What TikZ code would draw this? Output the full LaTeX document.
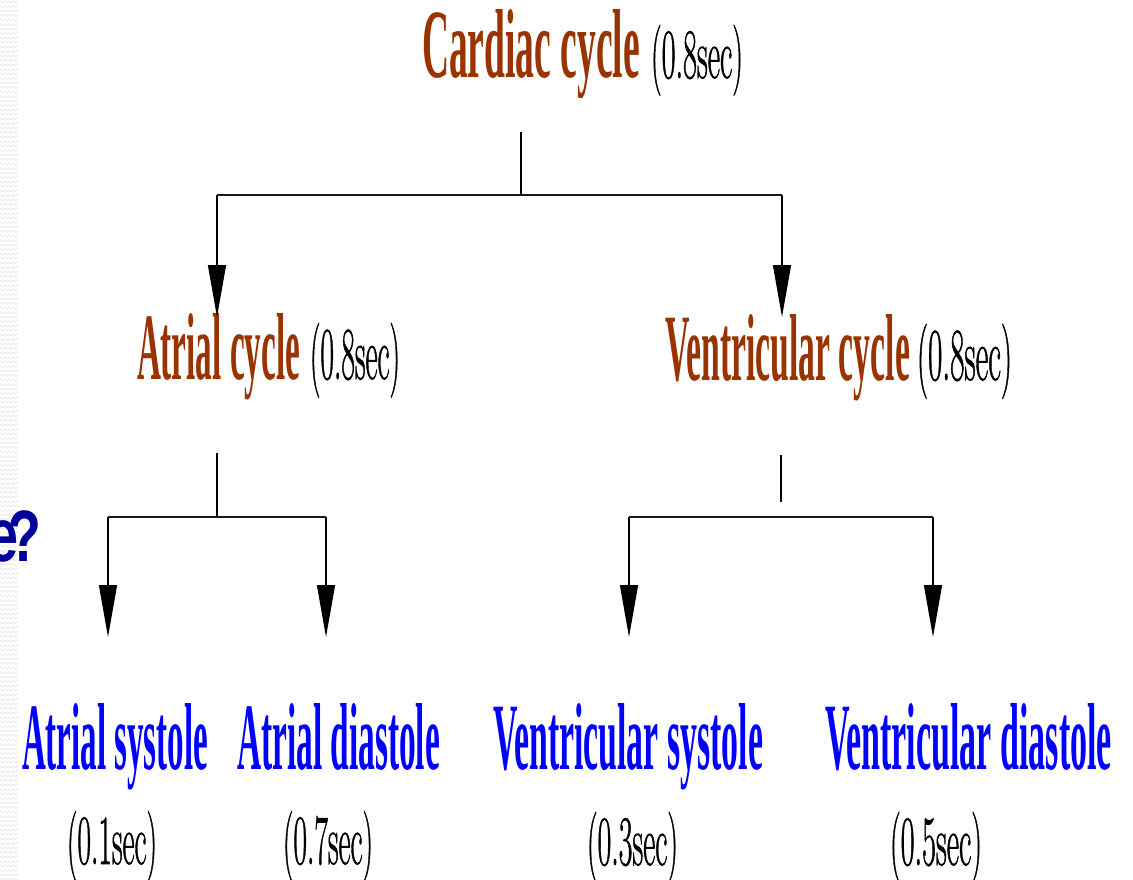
\documentclass[tikz,border=0pt]{standalone}
\usepackage{fontspec}
\usepackage{graphicx}
\newfontfamily\tnr{Liberation Serif}
\newfontfamily\monob{Liberation Mono}
\newfontfamily\durfont[FakeBold=1.2]{Latin Modern Roman}
\usetikzlibrary{arrows.meta,decorations.pathmorphing}
\definecolor{brownc}{HTML}{993300}
\definecolor{bluec}{HTML}{0000FF}
\definecolor{navyq}{HTML}{000099}
\newcommand{\fitbox}[3]{\resizebox{#1pt}{#2pt}{#3}}
\newcommand{\boldt}[3]{\fitbox{#1}{#2}{\tnr\bfseries #3}}
\newcommand{\durt}[3]{\fitbox{#1}{#2}{\durfont\fontsize{60}{60}\selectfont #3}}
\begin{document}
\begin{tikzpicture}[x=1pt,y=1pt,
  lbl/.style={anchor=base west, inner sep=0pt, outer sep=0pt},
  head/.style={lbl, text=brownc},
  leaf/.style={lbl, text=bluec},
  dur/.style={lbl, text=black},
  stemline/.style={line width=1.3pt, draw=black},
  barline/.style={line width=2.8pt, draw=black!90},
  arr/.style={line width=1.3pt, draw=black, -{Triangle[width=18pt,length=52pt]}},
  stripe/.style={draw=black!11, line width=0.6pt, decorate,
    decoration={zigzag, segment length=4pt, amplitude=1pt}}]
\useasboundingbox (0,0) rectangle (1133,-880);
\fill[white] (0,0) rectangle (1133,-880);
% textured left strip
\foreach \y in {2,6.5,...,880} \draw[stripe] (0,-\y) -- (18,-\y);
% clipped fragment of slide title
\begin{scope}
\clip (0,0) rectangle (1133,-880);
\node[anchor=base east, inner sep=0pt, text=navyq] (frag) at (41,-561)
  {\scalebox{0.72}[1]{\monob\bfseries\fontsize{76}{76}\selectfont e\kern-0.2em?}};
\end{scope}
% labels
\node[head] (cardiac) at (422,-78) {\boldt{218}{68}{Cardiac cycle}};
\node[dur] (cardiacd) at (651,-78) {\durt{92}{53}{(0.8sec)}};
\node[head] (atrial) at (137,-379) {\boldt{163}{66}{Atrial cycle}};
\node[dur] (atriald) at (310,-379) {\durt{90}{56}{(0.8sec)}};
\node[head] (ventr) at (665,-380) {\boldt{245}{66}{Ventricular cycle}};
\node[dur] (ventrd) at (917,-380) {\durt{95}{56}{(0.8sec)}};
\node[leaf] (asys) at (22,-769) {\boldt{186}{66}{Atrial systole}};
\node[leaf] (adia) at (237,-769) {\boldt{203}{66}{Atrial diastole}};
\node[leaf] (vsys) at (493,-769) {\boldt{270}{66}{Ventricular systole}};
\node[leaf] (vdia) at (825,-769) {\boldt{287}{66}{Ventricular diastole}};
\node[dur] (asysd) at (67,-864) {\durt{90}{53}{(0.1sec)}};
\node[dur] (adiad) at (283,-864) {\durt{90}{53}{(0.7sec)}};
\node[dur] (vsysd) at (587,-865) {\durt{91}{53}{(0.3sec)}};
\node[dur] (vdiad) at (890,-865) {\durt{92}{53}{(0.5sec)}};
% tree 1
\coordinate (t0) at (521,-132);
\coordinate (tj) at (521,-195);
\coordinate (tl) at (217,-195);
\coordinate (tr) at (782,-195);
\coordinate (atip) at (217,-317);
\coordinate (vtip) at (782,-317);
\draw[stemline] (t0) -- (tj);
\draw[arr] (tl) -- (atip);
\draw[arr] (tr) -- (vtip);
\draw[barline] (tl) -- (tr);
% tree 2
\coordinate (a0) at (217,-453);
\coordinate (aj) at (217,-517);
\coordinate (al) at (108,-517);
\coordinate (ar) at (326,-517);
\coordinate (asystip) at (108,-637);
\coordinate (adiatip) at (326,-637);
\draw[stemline] (a0) -- (aj);
\draw[arr] (al) -- (asystip);
\draw[arr] (ar) -- (adiatip);
\draw[barline] (al) -- (ar);
% tree 3
\coordinate (v0) at (781,-455);
\coordinate (vj) at (781,-502);
\coordinate (vl) at (629,-517);
\coordinate (vr) at (933,-517);
\coordinate (vsystip) at (629,-637);
\coordinate (vdiatip) at (933,-637);
\draw[stemline] (v0) -- (vj);
\draw[arr] (vl) -- (vsystip);
\draw[arr] (vr) -- (vdiatip);
\draw[barline] (vl) -- (vr);
\end{tikzpicture}
\end{document}
